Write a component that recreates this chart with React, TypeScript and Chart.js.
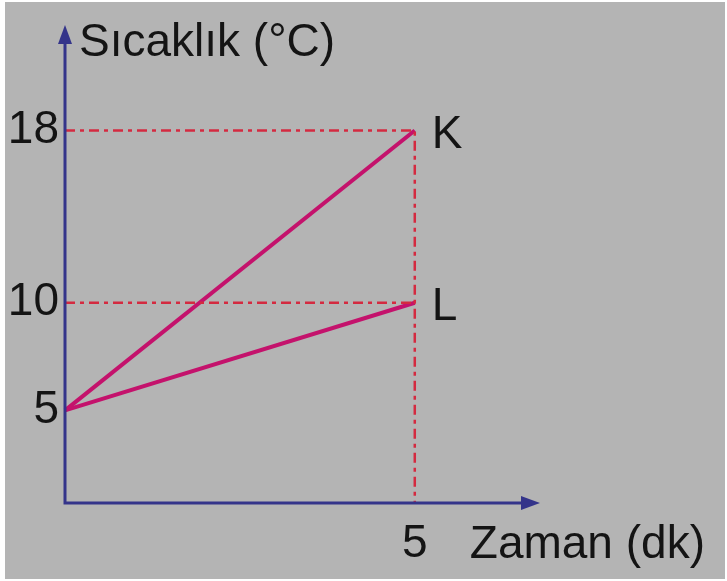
import React, { useEffect, useRef } from "react";
import { Chart, registerables } from "chart.js";

Chart.register(...registerables);

// ---- data ----
const timeValues = [0, 5];
const seriesK = [5, 18];
const seriesL = [5, 10];
const seriesLabels = ["K", "L"];
const yTickValues = [5, 10, 18];
const xTickValues = [5];
const yTitle = "Sıcaklık (°C)";
const xTitle = "Zaman (dk)";

const X_MIN = 0;
const X_MAX = 6.79;
const Y_MIN = 0.7;
const Y_MAX = 22.9;

const FONT = "'Liberation Sans', Arial, sans-serif";
const AXIS_COLOR = "#34348a";
const LINE_COLOR = "#c4126c";
const GUIDE_COLOR = "#d42a40";

const decorPlugin = {
  id: "decor",
  beforeDraw(chart: any) {
    const ctx = chart.ctx;
    ctx.save();
    ctx.fillStyle = "#ffffff";
    ctx.fillRect(0, 0, chart.width, chart.height);
    ctx.fillStyle = "#b4b4b4";
    ctx.fillRect(5, 2, chart.width - 7, chart.height - 4);
    ctx.restore();
  },
  afterDatasetsDraw(chart: any) {
    const ctx = chart.ctx;
    const xs = chart.scales.x;
    const ys = chart.scales.y;
    const x0 = xs.getPixelForValue(X_MIN);
    const xEnd = xs.getPixelForValue(X_MAX);
    const y0 = ys.getPixelForValue(Y_MIN);
    const yEnd = ys.getPixelForValue(Y_MAX);
    ctx.save();
    ctx.strokeStyle = AXIS_COLOR;
    ctx.fillStyle = AXIS_COLOR;
    ctx.lineWidth = 3;
    ctx.beginPath();
    ctx.moveTo(x0, yEnd + 10);
    ctx.lineTo(x0, y0);
    ctx.lineTo(xEnd - 10, y0);
    ctx.stroke();
    // arrow heads
    ctx.beginPath();
    ctx.moveTo(x0, yEnd);
    ctx.lineTo(x0 - 7, yEnd + 19);
    ctx.lineTo(x0 + 7, yEnd + 19);
    ctx.closePath();
    ctx.fill();
    ctx.beginPath();
    ctx.moveTo(xEnd, y0);
    ctx.lineTo(xEnd - 19, y0 - 7);
    ctx.lineTo(xEnd - 19, y0 + 7);
    ctx.closePath();
    ctx.fill();

    // texts
    ctx.fillStyle = "#141414";
    ctx.font = `46px ${FONT}`;
    ctx.textBaseline = "alphabetic";
    ctx.textAlign = "left";
    ctx.fillText(yTitle, x0 + 14, 56);
    ctx.fillText(xTitle, xs.getPixelForValue(xTickValues[0]) + 55, 558);
    const ends = [seriesK[seriesK.length - 1], seriesL[seriesL.length - 1]];
    const xe = xs.getPixelForValue(timeValues[timeValues.length - 1]);
    seriesLabels.forEach((lab, i) => {
      ctx.fillText(lab, xe + 17, ys.getPixelForValue(ends[i]) + 17);
    });
    ctx.restore();
  },
};

export default function App() {
  const ref = useRef<HTMLCanvasElement | null>(null);
  useEffect(() => {
    if (!ref.current) return;
    const xLast = timeValues[timeValues.length - 1];
    const kTop = seriesK[seriesK.length - 1];
    const lTop = seriesL[seriesL.length - 1];
    const zeroPad = (s: any) => {
      s.paddingTop = 0;
      s.paddingBottom = 0;
      s.paddingLeft = 0;
      s.paddingRight = 0;
    };
    const chart = new Chart(ref.current, {
      type: "scatter",
      data: {
        datasets: [
          {
            label: "K guide",
            data: [
              { x: timeValues[0], y: kTop },
              { x: xLast, y: kTop },
              { x: xLast, y: Y_MIN },
            ],
            showLine: true,
            borderColor: GUIDE_COLOR,
            borderWidth: 2.5,
            borderDash: [10, 5, 4, 5],
            pointRadius: 0,
            clip: false as any,
          },
          {
            label: "L guide",
            data: [
              { x: timeValues[0], y: lTop },
              { x: xLast, y: lTop },
            ],
            showLine: true,
            borderColor: GUIDE_COLOR,
            borderWidth: 2.5,
            borderDash: [10, 5, 4, 5],
            pointRadius: 0,
            clip: false as any,
          },
          {
            label: seriesLabels[0],
            data: timeValues.map((t, i) => ({ x: t, y: seriesK[i] })),
            showLine: true,
            borderColor: LINE_COLOR,
            borderWidth: 4,
            pointRadius: 0,
            clip: false as any,
          },
          {
            label: seriesLabels[1],
            data: timeValues.map((t, i) => ({ x: t, y: seriesL[i] })),
            showLine: true,
            borderColor: LINE_COLOR,
            borderWidth: 4,
            pointRadius: 0,
            clip: false as any,
          },
        ],
      },
      options: {
        responsive: false,
        animation: false,
        layout: { padding: { left: 0, right: 187, top: 25, bottom: 0 } },
        plugins: { legend: { display: false }, tooltip: { enabled: false } },
        scales: {
          x: {
            type: "linear",
            min: X_MIN,
            max: X_MAX,
            grid: { display: false, drawTicks: false },
            border: { display: false },
            afterBuildTicks: (s: any) => {
              s.ticks = xTickValues.map((v) => ({ value: v }));
            },
            afterFit: (s: any) => {
              s.height = 78;
              zeroPad(s);
            },
            ticks: {
              padding: 14,
              color: "#141414",
              font: { size: 46, family: FONT },
              callback: (v: any) => String(v),
            },
          },
          y: {
            type: "linear",
            min: Y_MIN,
            max: Y_MAX,
            grid: { display: false, drawTicks: false },
            border: { display: false },
            afterBuildTicks: (s: any) => {
              s.ticks = yTickValues.map((v) => ({ value: v }));
            },
            afterFit: (s: any) => {
              s.width = 65;
              zeroPad(s);
            },
            ticks: {
              padding: 6,
              color: "#141414",
              font: { size: 46, family: FONT },
              callback: (v: any) => String(v),
            },
          },
        },
      },
      plugins: [decorPlugin],
    });
    return () => chart.destroy();
  }, []);
  return (
    <div style={{ position: "fixed", left: 0, top: 0, width: 727, height: 581 }}>
      <canvas ref={ref} width={727} height={581} style={{ display: "block" }} />
    </div>
  );
}
